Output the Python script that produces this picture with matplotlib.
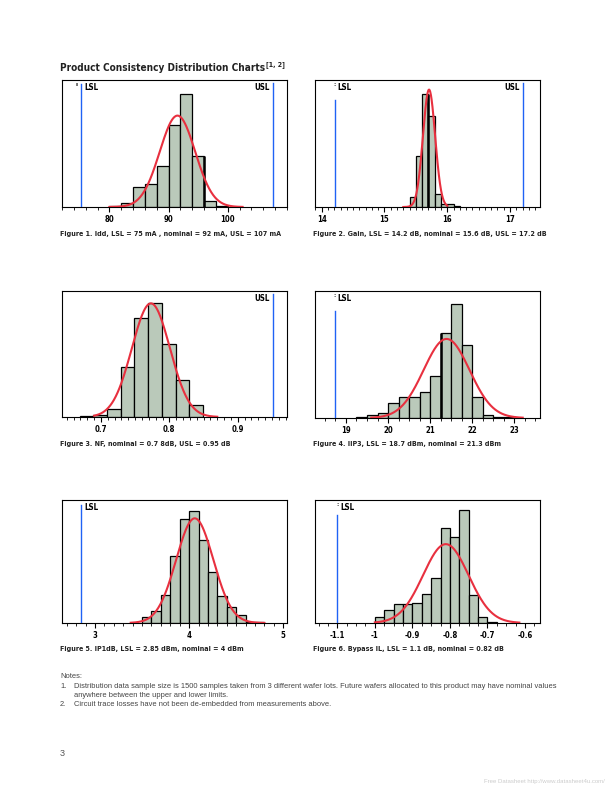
import numpy as np
import matplotlib
matplotlib.use("Agg")
import matplotlib.pyplot as plt
from matplotlib.ticker import MultipleLocator, FixedLocator
import matplotlib.transforms as mtransforms

plt.rcParams['font.family'] = ['Liberation Sans Narrow', 'DejaVu Sans']
plt.rcParams['font.stretch'] = 'condensed'

BAR = '#bac9ba'
RED = '#e8303f'
BLUE = '#2062f5'

# ---- data (bin edges, counts per bin, fit: mean, sd, curve from, curve to) ----
idd_edges = [80, 82, 84, 86, 88, 90, 92, 94, 96, 98, 100]
idd_counts = [3, 18, 88, 102, 181, 359, 495, 225, 28, 3]
idd_fit = (91.5, 2.99, 80.0, 102.5)

gain_edges = [15.4, 15.5, 15.6, 15.7, 15.8, 15.9, 16.0, 16.1, 16.2]
gain_counts = [52, 269, 592, 478, 70, 17, 14, 7]
gain_fit = (15.71, 0.097, 15.3, 16.0)

nf_edges = [0.669, 0.689, 0.709, 0.729, 0.749, 0.769, 0.789, 0.809, 0.829, 0.849]
nf_counts = [3, 8, 32, 188, 374, 431, 278, 141, 47]
nf_fit = (0.773, 0.0278, 0.69, 0.87)

iip3_edges = [19.25, 19.5, 19.75, 20.0, 20.25, 20.5, 20.75, 21.0, 21.25, 21.5,
              21.75, 22.0, 22.25, 22.5, 22.75, 23.0]
iip3_counts = [3, 10, 18, 52, 73, 73, 90, 146, 295, 395, 253, 73, 12, 5, 2]
iip3_fit = (21.39, 0.546, 19.6, 23.2)

ip1_edges = [3.5, 3.6, 3.7, 3.8, 3.9, 4.0, 4.1, 4.2, 4.3, 4.4, 4.5, 4.6, 4.7, 4.8]
ip1_counts = [18, 36, 82, 195, 303, 325, 240, 149, 78, 46, 22, 4, 2]
ip1_fit = (4.06, 0.197, 3.38, 4.8)

il_edges = [-1.0, -0.975, -0.95, -0.925, -0.9, -0.875, -0.85, -0.825, -0.8,
            -0.775, -0.75, -0.725, -0.7, -0.675]
il_counts = [18, 42, 59, 59, 64, 90, 142, 296, 270, 353, 87, 18, 2]
il_fit = (-0.811, 0.0606, -1.0, -0.615)

captions = [
    "Figure 1. Idd, LSL = 75 mA , nominal = 92 mA, USL = 107 mA",
    "Figure 2. Gain, LSL = 14.2 dB, nominal = 15.6 dB, USL = 17.2 dB",
    "Figure 3. NF, nominal = 0.7 8dB, USL = 0.95 dB",
    "Figure 4. IIP3, LSL = 18.7 dBm, nominal = 21.3 dBm",
    "Figure 5. IP1dB, LSL = 2.85 dBm, nominal = 4 dBm",
    "Figure 6. Bypass IL, LSL = 1.1 dB, nominal = 0.82 dB",
]

notes = [
    "Distribution data sample size is 1500 samples taken from 3 different wafer lots. Future wafers allocated to this product may have nominal values",
    "anywhere between the upper and lower limits.",
    "Circuit trace losses have not been de-embedded from measurements above.",
]

TICK_FS = 5.6
LIM_FS = 5.8
CAP_FS = 5.1
TITLE_FS = 7.2


def panel(rect, edges, counts, fit, xlim, ylim, majors, labels, minor,
          lsl=None, usl=None, lsl_top=1.0, mark=None, thick=None):
    ax = fig.add_axes(rect)
    edges = np.asarray(edges, dtype=float)
    counts = np.asarray(counts, dtype=float)
    w = edges[1] - edges[0]
    ax.bar(edges[:-1], counts, width=np.diff(edges), align='edge', color=BAR,
           edgecolor='black', linewidth=0.9, zorder=2)
    if thick is not None:
        # a few bar edges look heavier in the original
        i = int(np.argmin(np.abs(edges - thick)))
        ax.vlines(edges[i], 0, max(counts[i - 1], counts[i]), color='black',
                  linewidth=1.8, zorder=3)
    mu, sd, x0, x1 = fit
    xs = np.linspace(x0, x1, 200)
    ys = counts.sum() * w * np.exp(-0.5 * ((xs - mu) / sd) ** 2) / (sd * np.sqrt(2 * np.pi))
    ax.plot(xs, ys, color=RED, linewidth=1.5, zorder=4)
    ax.set_xlim(*xlim)
    ax.set_ylim(*ylim)
    ax.set_yticks([])
    ax.xaxis.set_major_locator(FixedLocator(majors))
    ax.set_xticklabels(labels, fontsize=TICK_FS, fontweight='bold')
    ax.xaxis.set_minor_locator(MultipleLocator(minor))
    ax.tick_params(axis='x', which='major', length=3.5, width=0.8, pad=2.5)
    ax.tick_params(axis='x', which='minor', length=2, width=0.6)
    for s in ax.spines.values():
        s.set_linewidth(0.8)
    tr = mtransforms.blended_transform_factory(ax.transData, ax.transAxes)
    span = xlim[1] - xlim[0]
    if lsl is not None:
        ax.axvline(lsl, ymin=0, ymax=lsl_top, color=BLUE, linewidth=1.0, zorder=5)
        ax.text(lsl + span * 0.012, 0.975, "LSL", transform=tr, fontsize=LIM_FS,
                fontweight='bold', va='top', ha='left')
        if mark is not None:
            ax.text(lsl + mark[0] * span, 0.985, mark[1], transform=tr,
                    fontsize=4.5, fontweight='bold', va='top', ha='center')
    if usl is not None:
        ax.axvline(usl, ymin=0, ymax=0.975, color=BLUE, linewidth=1.0, zorder=5)
        ax.text(usl - span * 0.015, 0.975, "USL", transform=tr, fontsize=LIM_FS,
                fontweight='bold', va='top', ha='right')
    return ax


fig = plt.figure(figsize=(6.12, 7.92), dpi=100)
H = 792.0
W = 612.0
renderer = fig.canvas.get_renderer()


def rect(x0, y0, x1, y1):
    return [x0 / W, 1 - y1 / H, (x1 - x0) / W, (y1 - y0) / H]


def fit_width(t, px):
    # scale the font so the text spans about as many pixels as in the original
    w = t.get_window_extent(renderer).width
    t.set_fontsize(t.get_fontsize() * px / w)
    return t.get_fontsize()


panel(rect(62, 80, 287, 207), idd_edges, idd_counts, idd_fit, (72, 110), (0, 557),
      [80, 90, 100], ['80', '90', '100'], 2, lsl=75.25, usl=107.6, lsl_top=0.97,
      mark=(-0.022, 'ı'), thick=96)
panel(rect(315, 80, 540, 207), gain_edges, gain_counts, gain_fit, (13.893, 17.478), (0, 667),
      [14, 15, 16, 17], ['14', '15', '16', '17'], 0.1, lsl=14.21, usl=17.21, lsl_top=0.84,
      mark=(0.0, ':'), thick=15.7)
panel(rect(62, 291, 287, 417), nf_edges, nf_counts, nf_fit, (0.643, 0.972), (0, 478),
      [0.7, 0.8, 0.9], ['0.7', '0.8', '0.9'], 0.01, usl=0.952)
panel(rect(315, 291, 540, 418), iip3_edges, iip3_counts, iip3_fit, (18.264, 23.61), (0, 440),
      [19, 20, 21, 22, 23], ['19', '20', '21', '22', '23'], 0.25, lsl=18.73, lsl_top=0.84,
      mark=(0.0, ':'), thick=21.25)
panel(rect(62, 500, 287, 623), ip1_edges, ip1_counts, ip1_fit, (2.65, 5.04), (0, 357),
      [3, 4, 5], ['3', '4', '5'], 0.1, lsl=2.855, lsl_top=0.96)
panel(rect(315, 500, 540, 623), il_edges, il_counts, il_fit, (-1.1595, -0.56), (0, 385),
      [-1.1, -1.0, -0.9, -0.8, -0.7, -0.6], ['-1.1', '-1', '-0.9', '-0.8', '-0.7', '-0.6'],
      0.025, lsl=-1.1, lsl_top=0.88, mark=(0.0, ':'))

# title with superscript note refs
t = fig.text(60 / W, 1 - 71 / H, "Product Consistency Distribution Charts", fontsize=TITLE_FS,
             fontweight='bold', ha='left', va='baseline', color='#222222')
end = t.get_window_extent(renderer).x1
fig.text((end + 1) / W, 1 - 66 / H, "[1, 2]", fontsize=5, fontweight='bold',
         ha='left', va='baseline', color='#222222')

cap_pos = [(60, 236), (313, 236), (60, 446), (313, 446), (60, 651), (313, 651)]
for (cx, cy), c in zip(cap_pos, captions):
    fig.text(cx / W, 1 - cy / H, c, fontsize=CAP_FS, fontweight='bold', ha='left',
             va='baseline', color='#222222')

nf = ['Liberation Sans', 'DejaVu Sans']
gray = '#444444'
t = fig.text(74 / W, 1 - 688 / H, notes[0], fontsize=5.5, family=nf, color=gray,
             fontstretch='normal')
note_fs = fit_width(t, 479)
fig.text(60 / W, 1 - 678 / H, "Notes:", fontsize=note_fs, family=nf, color=gray, fontstretch='normal')
fig.text(60 / W, 1 - 688 / H, "1.", fontsize=note_fs, family=nf, color=gray, fontstretch='normal')
fig.text(74 / W, 1 - 697 / H, notes[1], fontsize=note_fs, family=nf, color=gray, fontstretch='normal')
fig.text(60 / W, 1 - 706 / H, "2.", fontsize=note_fs, family=nf, color=gray, fontstretch='normal')
fig.text(74 / W, 1 - 706 / H, notes[2], fontsize=note_fs, family=nf, color=gray, fontstretch='normal')

fig.text(60 / W, 1 - 756 / H, "3", fontsize=6.5, family=nf, color='#555555', fontstretch='normal')
t = fig.text(605 / W, 1 - 783 / H, "Free Datasheet http://www.datasheet4u.com/", fontsize=4.5,
             family=nf, color='#cccccc', ha='right', fontstretch='normal')
fit_width(t, 119)

fig.savefig("out.png", dpi=100)
